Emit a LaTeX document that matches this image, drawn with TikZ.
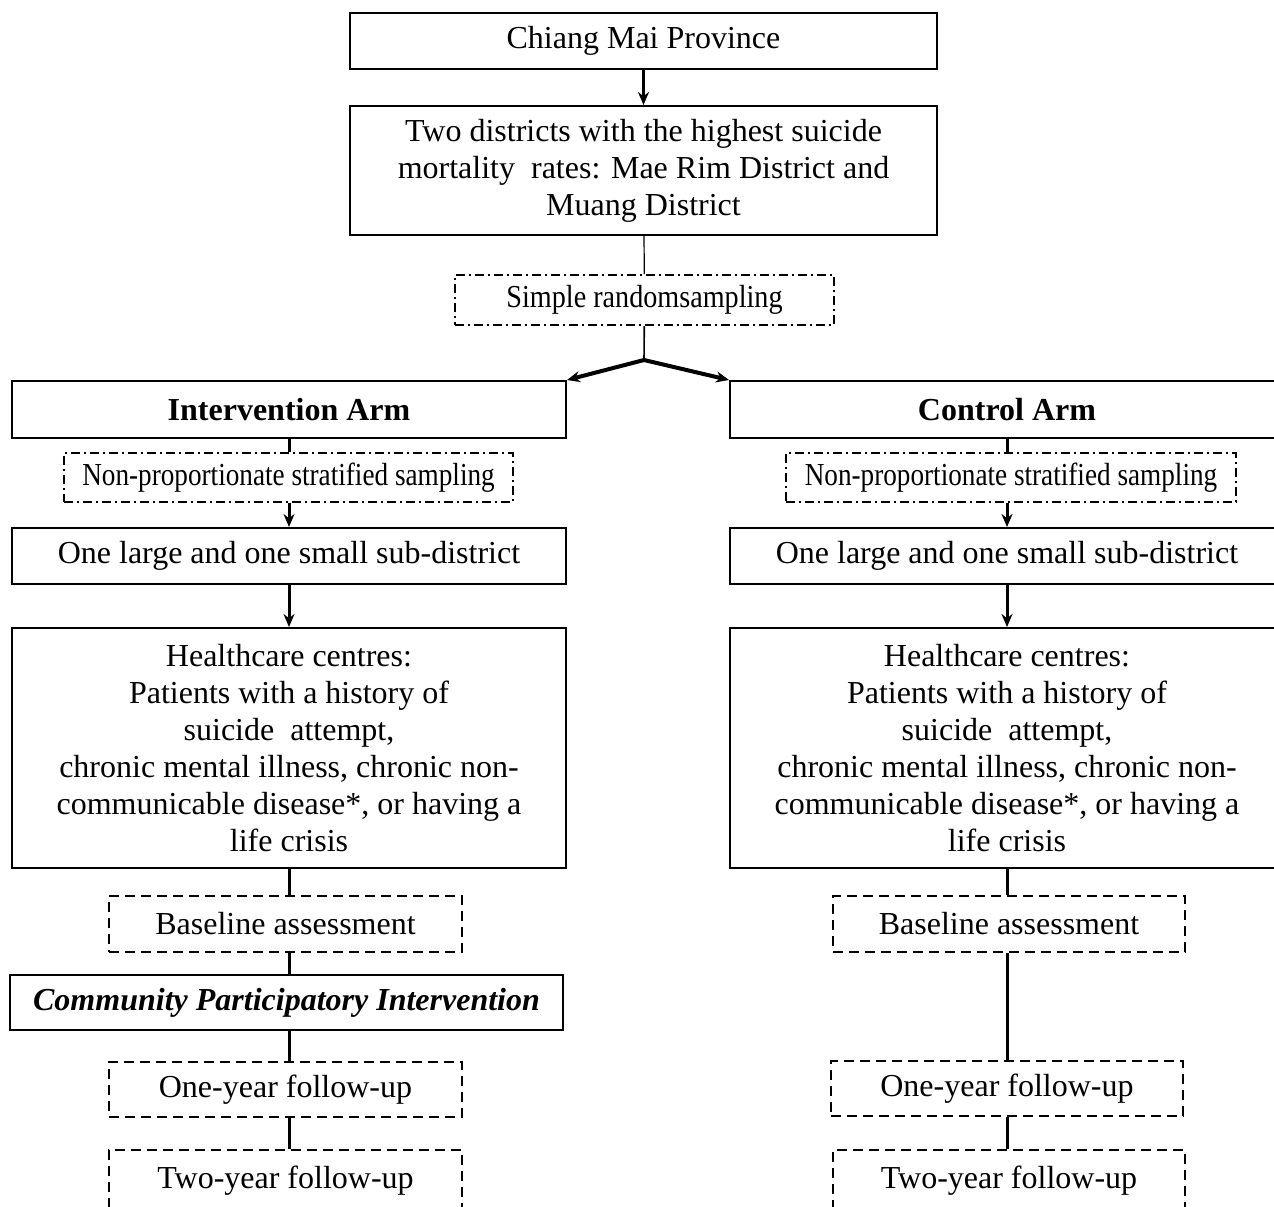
\documentclass[tikz,border=0pt]{standalone}
\usepackage{fontspec}
\setmainfont{Liberation Serif}
\usetikzlibrary{arrows.meta}

\begin{document}
\begin{tikzpicture}[x=0.5pt,y=-0.5pt,>={Stealth[length=6.5pt,width=5.5pt]},thick,
  main node/.style={draw,line width=1pt,inner sep=0pt,align=center,
    font=\fontsize{16}{18.5}\selectfont},
  dash node/.style={main node,dashed,dash pattern=on 5pt off 3pt},
  dot node/.style={main node,dash pattern=on 4.5pt off 2pt on 1pt off 2pt},
  link/.style={line width=1.5pt}]

\useasboundingbox (0,0) rectangle (1274,1206);

% top part
\node[main node,minimum width=293.5pt,minimum height=28pt] at (643.5,41) (chiang) {Chiang Mai Province};
\node[main node,minimum width=293.5pt,minimum height=64.5pt] at (643.5,170.5) (districts)
  {Two districts with the highest suicide\\mortality\ \ rates: Mae Rim District and\\Muang District};
\node[dot node,minimum width=189.5pt,minimum height=25pt] at (644.5,300) (simple)
  {\scalebox{0.88}[1]{Simple randomsampling}};
\coordinate (split) at (644,360);

% intervention arm
\node[main node,minimum width=277pt,minimum height=28.5pt] at (289,409.5) (intarm) {\bfseries Intervention Arm};
\node[dot node,minimum width=224.5pt,minimum height=24.5pt] at (288.5,477.5) (intnps)
  {\scalebox{0.85}[1]{Non-proportionate stratified sampling}};
\node[main node,minimum width=277pt,minimum height=28pt] at (289,556) (intsub) {One large and one small sub-district};
\node[main node,minimum width=277pt,minimum height=120pt] at (289,748) (inthc)
  {Healthcare centres:\\Patients with a history of\\suicide\ \ attempt,\\chronic mental illness, chronic non-\\communicable disease*, or having a\\life crisis};
\node[dash node,minimum width=176.5pt,minimum height=28pt] at (285.5,924) (intbase) {Baseline assessment};
\node[main node,minimum width=276.5pt,minimum height=27.5pt] at (286.5,1002.5) (cpi) {\bfseries\itshape Community Participatory Intervention};
\node[dash node,minimum width=176.5pt,minimum height=27.5pt] at (285.5,1089.5) (intone) {One-year follow-up};
\node[dash node,minimum width=176.5pt,minimum height=31pt] at (285.5,1181) (inttwo) {Two-year follow-up};

% control arm
\node[main node,minimum width=277pt,minimum height=28.5pt] at (1007,409.5) (ctlarm) {\bfseries Control Arm};
\node[dot node,minimum width=225pt,minimum height=24.5pt] at (1011,477.5) (ctlnps)
  {\scalebox{0.85}[1]{Non-proportionate stratified sampling}};
\node[main node,minimum width=277pt,minimum height=28pt] at (1007,556) (ctlsub) {One large and one small sub-district};
\node[main node,minimum width=277pt,minimum height=120pt] at (1007,748) (ctlhc)
  {Healthcare centres:\\Patients with a history of\\suicide\ \ attempt,\\chronic mental illness, chronic non-\\communicable disease*, or having a\\life crisis};
\node[dash node,minimum width=176pt,minimum height=28pt] at (1009,924) (ctlbase) {Baseline assessment};
\node[dash node,minimum width=176pt,minimum height=27.5pt] at (1007,1088.5) (ctlone) {One-year follow-up};
\node[dash node,minimum width=176pt,minimum height=31pt] at (1009,1181) (ctltwo) {Two-year follow-up};

% connectors
\draw[link,->] (chiang) -- (districts);
\draw[line width=0.6pt] (districts) -- (simple);
\draw[line width=0.8pt] (simple) -- (split);
\draw[line width=2pt,->] (split) -- (intarm.north east);
\draw[line width=2pt,->] (split) -- (ctlarm.north west);

\foreach \arm in {int,ctl} {
  \draw[link] (\arm arm.south) -- (\arm arm.south |- \arm nps.north);
  \draw[link,->] (\arm arm.south |- \arm nps.south) -- (\arm sub.north);
  \draw[link,->] (\arm sub) -- (\arm hc);
  \draw[link] (\arm hc.south) -- (\arm hc.south |- \arm base.north);
}
\draw[link] (inthc.south |- intbase.south) -- (inthc.south |- cpi.north);
\draw[link] (inthc.south |- cpi.south) -- (inthc.south |- intone.north);
\draw[link] (inthc.south |- intone.south) -- (inthc.south |- inttwo.north);
\draw[link] (ctlhc.south |- ctlbase.south) -- (ctlhc.south |- ctlone.north);
\draw[link] (ctlhc.south |- ctlone.south) -- (ctlhc.south |- ctltwo.north);

\end{tikzpicture}
\end{document}
